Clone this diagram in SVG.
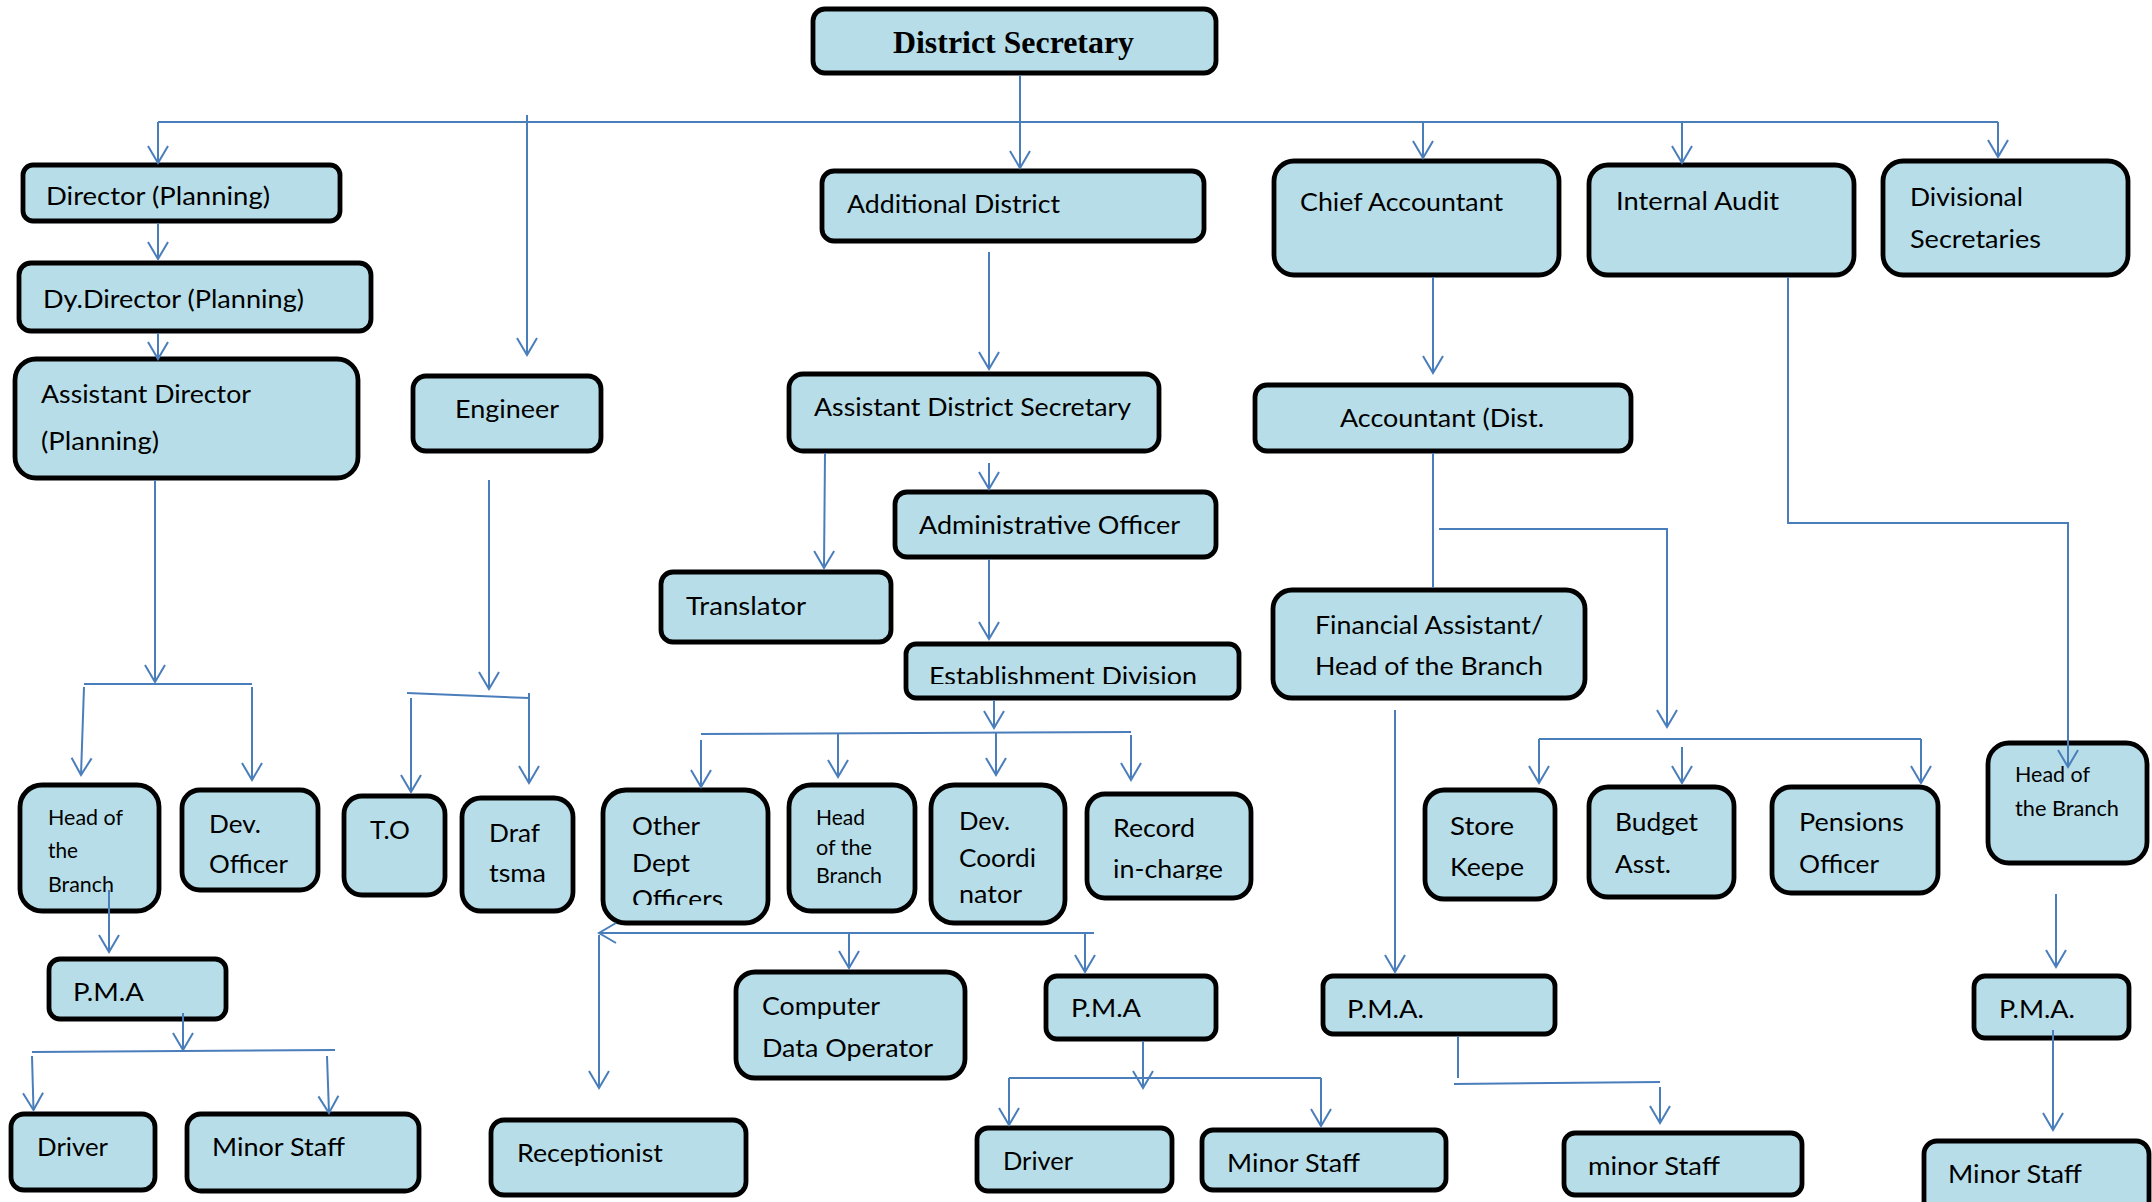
<svg xmlns="http://www.w3.org/2000/svg" width="2152" height="1202" viewBox="0 0 2152 1202">
<style>
.box{fill:#b7dee8;stroke:#000;stroke-width:4.8}
.t{font-family:Lato,"Open Sans","Liberation Sans",sans-serif;font-size:25px;fill:#000}
.s{font-size:21px}
.ds{font-family:"Liberation Serif","Times New Roman",serif;font-size:32px;font-weight:bold;fill:#000}
.c{fill:none;stroke:#4a7ebb;stroke-width:2}
.a{marker-end:url(#arr)}
</style>
<defs>
<marker id="arr" markerUnits="userSpaceOnUse" viewBox="-20 -14 24 28" markerWidth="24" markerHeight="28" refX="0" refY="0" orient="auto">
<path d="M-17,-10 L0,0 L-17,10" fill="none" stroke="#4a7ebb" stroke-width="2"/>
</marker>
<clipPath id="clipOther" clipPathUnits="userSpaceOnUse"><rect x="600" y="780" width="170" height="125"/></clipPath>
<clipPath id="clipEst" clipPathUnits="userSpaceOnUse"><rect x="900" y="640" width="345" height="44"/></clipPath>
<clipPath id="clipRec" clipPathUnits="userSpaceOnUse"><rect x="1083" y="790" width="172" height="89.5"/></clipPath>
</defs>
<rect width="2152" height="1202" fill="#fff"/>

<g id="n-ds"><rect class="box" x="813" y="9" width="403" height="64" rx="12"/><text class="ds" x="893" y="53" textLength="241" lengthAdjust="spacingAndGlyphs">District Secretary</text></g>
<g id="n-dirplan"><rect class="box" x="23" y="165" width="317" height="56" rx="10"/><text class="t" x="46" y="205" textLength="224" lengthAdjust="spacingAndGlyphs">Director (Planning)</text></g>
<g id="n-dydir"><rect class="box" x="19" y="263" width="352" height="68" rx="12"/><text class="t" x="43" y="308" textLength="261" lengthAdjust="spacingAndGlyphs">Dy.Director (Planning)</text></g>
<g id="n-asstdir"><rect class="box" x="15" y="359" width="343" height="119" rx="21"/><text class="t" x="41" y="403" textLength="210" lengthAdjust="spacingAndGlyphs">Assistant Director</text><text class="t" x="41" y="450" textLength="118" lengthAdjust="spacingAndGlyphs">(Planning)</text></g>
<g id="n-engineer"><rect class="box" x="413" y="376" width="188" height="75" rx="13"/><text class="t" x="455" y="418" textLength="104" lengthAdjust="spacingAndGlyphs">Engineer</text></g>
<g id="n-adddist"><rect class="box" x="822" y="171" width="382" height="70" rx="12"/><text class="t" x="847" y="213" textLength="213" lengthAdjust="spacingAndGlyphs">Additional District</text></g>
<g id="n-chiefacc"><rect class="box" x="1274" y="161" width="285" height="114" rx="20"/><text class="t" x="1300" y="211" textLength="203" lengthAdjust="spacingAndGlyphs">Chief Accountant</text></g>
<g id="n-ia"><rect class="box" x="1589" y="165" width="265" height="110" rx="19"/><text class="t" x="1616" y="210" textLength="163" lengthAdjust="spacingAndGlyphs">Internal Audit</text></g>
<g id="n-divsec"><rect class="box" x="1883" y="161" width="245" height="114" rx="20"/><text class="t" x="1910" y="206" textLength="113" lengthAdjust="spacingAndGlyphs">Divisional</text><text class="t" x="1910" y="248" textLength="131" lengthAdjust="spacingAndGlyphs">Secretaries</text></g>
<g id="n-ads"><rect class="box" x="789" y="374" width="370" height="77" rx="14"/><text class="t" x="814" y="416" textLength="317" lengthAdjust="spacingAndGlyphs">Assistant District Secretary</text></g>
<g id="n-acc"><rect class="box" x="1255" y="385" width="376" height="66" rx="12"/><text class="t" x="1340" y="427" textLength="204" lengthAdjust="spacingAndGlyphs">Accountant (Dist.</text></g>
<g id="n-admin"><rect class="box" x="895" y="492" width="321" height="65" rx="12"/><text class="t" x="919" y="534" textLength="261" lengthAdjust="spacingAndGlyphs">Administrative Officer</text></g>
<g id="n-translator"><rect class="box" x="661" y="572" width="230" height="70" rx="12"/><text class="t" x="686" y="615" textLength="120" lengthAdjust="spacingAndGlyphs">Translator</text></g>
<g id="n-est"><rect class="box" x="906" y="644" width="333" height="54" rx="10"/><text class="t" x="929" y="685" textLength="268" lengthAdjust="spacingAndGlyphs" clip-path="url(#clipEst)">Establishment Division</text></g>
<g id="n-fin"><rect class="box" x="1273" y="590" width="312" height="108" rx="19"/><text class="t" x="1315" y="634" textLength="228" lengthAdjust="spacingAndGlyphs">Financial Assistant/</text><text class="t" x="1315" y="675" textLength="228" lengthAdjust="spacingAndGlyphs">Head of the Branch</text></g>
<g id="n-hob1"><rect class="box" x="20" y="785" width="139" height="126" rx="22"/><text class="t s" x="48" y="825" textLength="75" lengthAdjust="spacingAndGlyphs">Head of</text><text class="t s" x="48" y="858" textLength="30" lengthAdjust="spacingAndGlyphs">the</text><text class="t s" x="48" y="892" textLength="66" lengthAdjust="spacingAndGlyphs">Branch</text></g>
<g id="n-devoff"><rect class="box" x="182" y="790" width="136" height="100" rx="18"/><text class="t" x="209" y="833" textLength="52" lengthAdjust="spacingAndGlyphs">Dev.</text><text class="t" x="209" y="873" textLength="79" lengthAdjust="spacingAndGlyphs">Officer</text></g>
<g id="n-to"><rect class="box" x="344" y="796" width="101" height="99" rx="18"/><text class="t" x="370" y="839" textLength="40" lengthAdjust="spacingAndGlyphs">T.O</text></g>
<g id="n-draft"><rect class="box" x="462" y="798" width="111" height="113" rx="19"/><text class="t" x="489" y="842" textLength="51" lengthAdjust="spacingAndGlyphs">Draf</text><text class="t" x="489" y="882" textLength="57" lengthAdjust="spacingAndGlyphs">tsma</text></g>
<g id="n-other"><rect class="box" x="603" y="790" width="165" height="133" rx="23"/><text class="t" x="632" y="835" textLength="68" lengthAdjust="spacingAndGlyphs">Other</text><text class="t" x="632" y="872" textLength="58" lengthAdjust="spacingAndGlyphs">Dept</text><text class="t" x="632" y="908" textLength="91" lengthAdjust="spacingAndGlyphs" clip-path="url(#clipOther)">Officers</text></g>
<g id="n-hob2"><rect class="box" x="789" y="785" width="126" height="126" rx="22"/><text class="t s" x="816" y="825" textLength="49" lengthAdjust="spacingAndGlyphs">Head</text><text class="t s" x="816" y="855" textLength="56" lengthAdjust="spacingAndGlyphs">of the</text><text class="t s" x="816" y="883" textLength="66" lengthAdjust="spacingAndGlyphs">Branch</text></g>
<g id="n-devcoord"><rect class="box" x="931" y="785" width="134" height="138" rx="23"/><text class="t" x="959" y="830" textLength="51" lengthAdjust="spacingAndGlyphs">Dev.</text><text class="t" x="959" y="867" textLength="77" lengthAdjust="spacingAndGlyphs">Coordi</text><text class="t" x="959" y="903" textLength="63" lengthAdjust="spacingAndGlyphs">nator</text></g>
<g id="n-record"><rect class="box" x="1087" y="794" width="164" height="104" rx="18"/><text class="t" x="1113" y="837" textLength="82" lengthAdjust="spacingAndGlyphs">Record</text><text class="t" x="1113" y="878" textLength="110" lengthAdjust="spacingAndGlyphs" clip-path="url(#clipRec)">in-charge</text></g>
<g id="n-store"><rect class="box" x="1425" y="790" width="130" height="109" rx="19"/><text class="t" x="1450" y="835" textLength="64" lengthAdjust="spacingAndGlyphs">Store</text><text class="t" x="1450" y="876" textLength="74" lengthAdjust="spacingAndGlyphs">Keepe</text></g>
<g id="n-budget"><rect class="box" x="1589" y="787" width="145" height="110" rx="19"/><text class="t" x="1615" y="831" textLength="83" lengthAdjust="spacingAndGlyphs">Budget</text><text class="t" x="1615" y="873" textLength="56" lengthAdjust="spacingAndGlyphs">Asst.</text></g>
<g id="n-pensions"><rect class="box" x="1772" y="787" width="166" height="106" rx="19"/><text class="t" x="1799" y="831" textLength="105" lengthAdjust="spacingAndGlyphs">Pensions</text><text class="t" x="1799" y="873" textLength="80" lengthAdjust="spacingAndGlyphs">Officer</text></g>
<g id="n-hob3"><rect class="box" x="1988" y="743" width="159" height="120" rx="21"/><text class="t s" x="2015" y="782" textLength="75" lengthAdjust="spacingAndGlyphs">Head of</text><text class="t s" x="2015" y="816" textLength="104" lengthAdjust="spacingAndGlyphs">the Branch</text></g>
<g id="n-pma1"><rect class="box" x="49" y="959" width="177" height="60" rx="11"/><text class="t" x="73" y="1001" textLength="71" lengthAdjust="spacingAndGlyphs">P.M.A</text></g>
<g id="n-driver1"><rect class="box" x="11" y="1114" width="144" height="76" rx="13"/><text class="t" x="37" y="1156" textLength="71" lengthAdjust="spacingAndGlyphs">Driver</text></g>
<g id="n-minor1"><rect class="box" x="187" y="1114" width="232" height="77" rx="14"/><text class="t" x="212" y="1156" textLength="133" lengthAdjust="spacingAndGlyphs">Minor Staff</text></g>
<g id="n-recep"><rect class="box" x="491" y="1120" width="255" height="75" rx="13"/><text class="t" x="517" y="1162" textLength="146" lengthAdjust="spacingAndGlyphs">Receptionist</text></g>
<g id="n-cdo"><rect class="box" x="736" y="972" width="229" height="106" rx="19"/><text class="t" x="762" y="1015" textLength="118" lengthAdjust="spacingAndGlyphs">Computer</text><text class="t" x="762" y="1057" textLength="171" lengthAdjust="spacingAndGlyphs">Data Operator</text></g>
<g id="n-pma2"><rect class="box" x="1046" y="976" width="170" height="63" rx="11"/><text class="t" x="1071" y="1017" textLength="70" lengthAdjust="spacingAndGlyphs">P.M.A</text></g>
<g id="n-driver2"><rect class="box" x="977" y="1128" width="195" height="63" rx="11"/><text class="t" x="1003" y="1170" textLength="70" lengthAdjust="spacingAndGlyphs">Driver</text></g>
<g id="n-minor2"><rect class="box" x="1202" y="1130" width="244" height="60" rx="11"/><text class="t" x="1227" y="1172" textLength="133" lengthAdjust="spacingAndGlyphs">Minor Staff</text></g>
<g id="n-pma3"><rect class="box" x="1323" y="976" width="232" height="58" rx="10"/><text class="t" x="1347" y="1018" textLength="77" lengthAdjust="spacingAndGlyphs">P.M.A.</text></g>
<g id="n-minor3"><rect class="box" x="1564" y="1133" width="238" height="62" rx="11"/><text class="t" x="1588" y="1175" textLength="132" lengthAdjust="spacingAndGlyphs">minor Staff</text></g>
<g id="n-pma4"><rect class="box" x="1974" y="976" width="155" height="62" rx="11"/><text class="t" x="1999" y="1018" textLength="76" lengthAdjust="spacingAndGlyphs">P.M.A.</text></g>
<g id="n-minor4"><rect class="box" x="1924" y="1141" width="225" height="80" rx="13"/><text class="t" x="1948" y="1183" textLength="134" lengthAdjust="spacingAndGlyphs">Minor Staff</text></g>

<g id="connectors">
<path class="c" d="M1020,75 V122"/>
<path class="c" d="M158,122 H1998"/>
<path class="c a" d="M158,122 V163"/>
<path class="c a" d="M527,115 V355"/>
<path class="c a" d="M1020,122 V168"/>
<path class="c a" d="M1423,122 V158"/>
<path class="c a" d="M1682,122 V163"/>
<path class="c a" d="M1998,122 V157"/>
<path class="c a" d="M158,223 V259"/>
<path class="c a" d="M158,333 V359"/>
<path class="c a" d="M155,480 V682"/>
<path class="c" d="M84,684 H252"/>
<path class="c a" d="M84,687 L81,775"/>
<path class="c a" d="M252,687 V780"/>
<path class="c a" d="M489,480 V689"/>
<path class="c" d="M407,693 L529,698"/>
<path class="c a" d="M411,698 V792"/>
<path class="c a" d="M529,693 V783"/>
<path class="c a" d="M989,252 V369"/>
<path class="c a" d="M825,453 L824,568"/>
<path class="c a" d="M989,463 V489"/>
<path class="c a" d="M989,559 V639"/>
<path class="c a" d="M994,700 V728"/>
<path class="c" d="M701,734 L1131,732"/>
<path class="c a" d="M701,740 V787"/>
<path class="c a" d="M838,733 V777"/>
<path class="c a" d="M996,732 V775"/>
<path class="c a" d="M1131,735 V780"/>
<path class="c a" d="M1433,277 V373"/>
<path class="c" d="M1433,453 V588"/>
<path class="c a" d="M1439,529 H1667 V727"/>
<path class="c" d="M1539,739 H1921"/>
<path class="c a" d="M1539,739 V783"/>
<path class="c a" d="M1682,747 V783"/>
<path class="c a" d="M1921,739 V783"/>
<path class="c a" d="M1788,277 V523 H2068 V767"/>
<path class="c a" d="M109,890 V952"/>
<path class="c a" d="M183,1013 V1050"/>
<path class="c" d="M32,1052 L335,1050"/>
<path class="c a" d="M32,1056 L33.5,1110"/>
<path class="c a" d="M327,1056 L329,1113"/>
<path class="c a" d="M1094,933 H599"/>
<path class="c a" d="M599,935 V1088"/>
<path class="c a" d="M849,933 V968"/>
<path class="c a" d="M1085,933 V972"/>
<path class="c a" d="M1143,1041 V1088"/>
<path class="c" d="M1009,1078 H1321"/>
<path class="c a" d="M1009,1078 V1125"/>
<path class="c a" d="M1321,1078 V1126"/>
<path class="c a" d="M1395,710 V972"/>
<path class="c" d="M1458,1036 V1078"/>
<path class="c" d="M1454,1084 L1660,1082"/>
<path class="c a" d="M1660,1087 V1123"/>
<path class="c a" d="M2056,894 V967"/>
<path class="c a" d="M2053,1030 V1130"/>
</g>
</svg>
